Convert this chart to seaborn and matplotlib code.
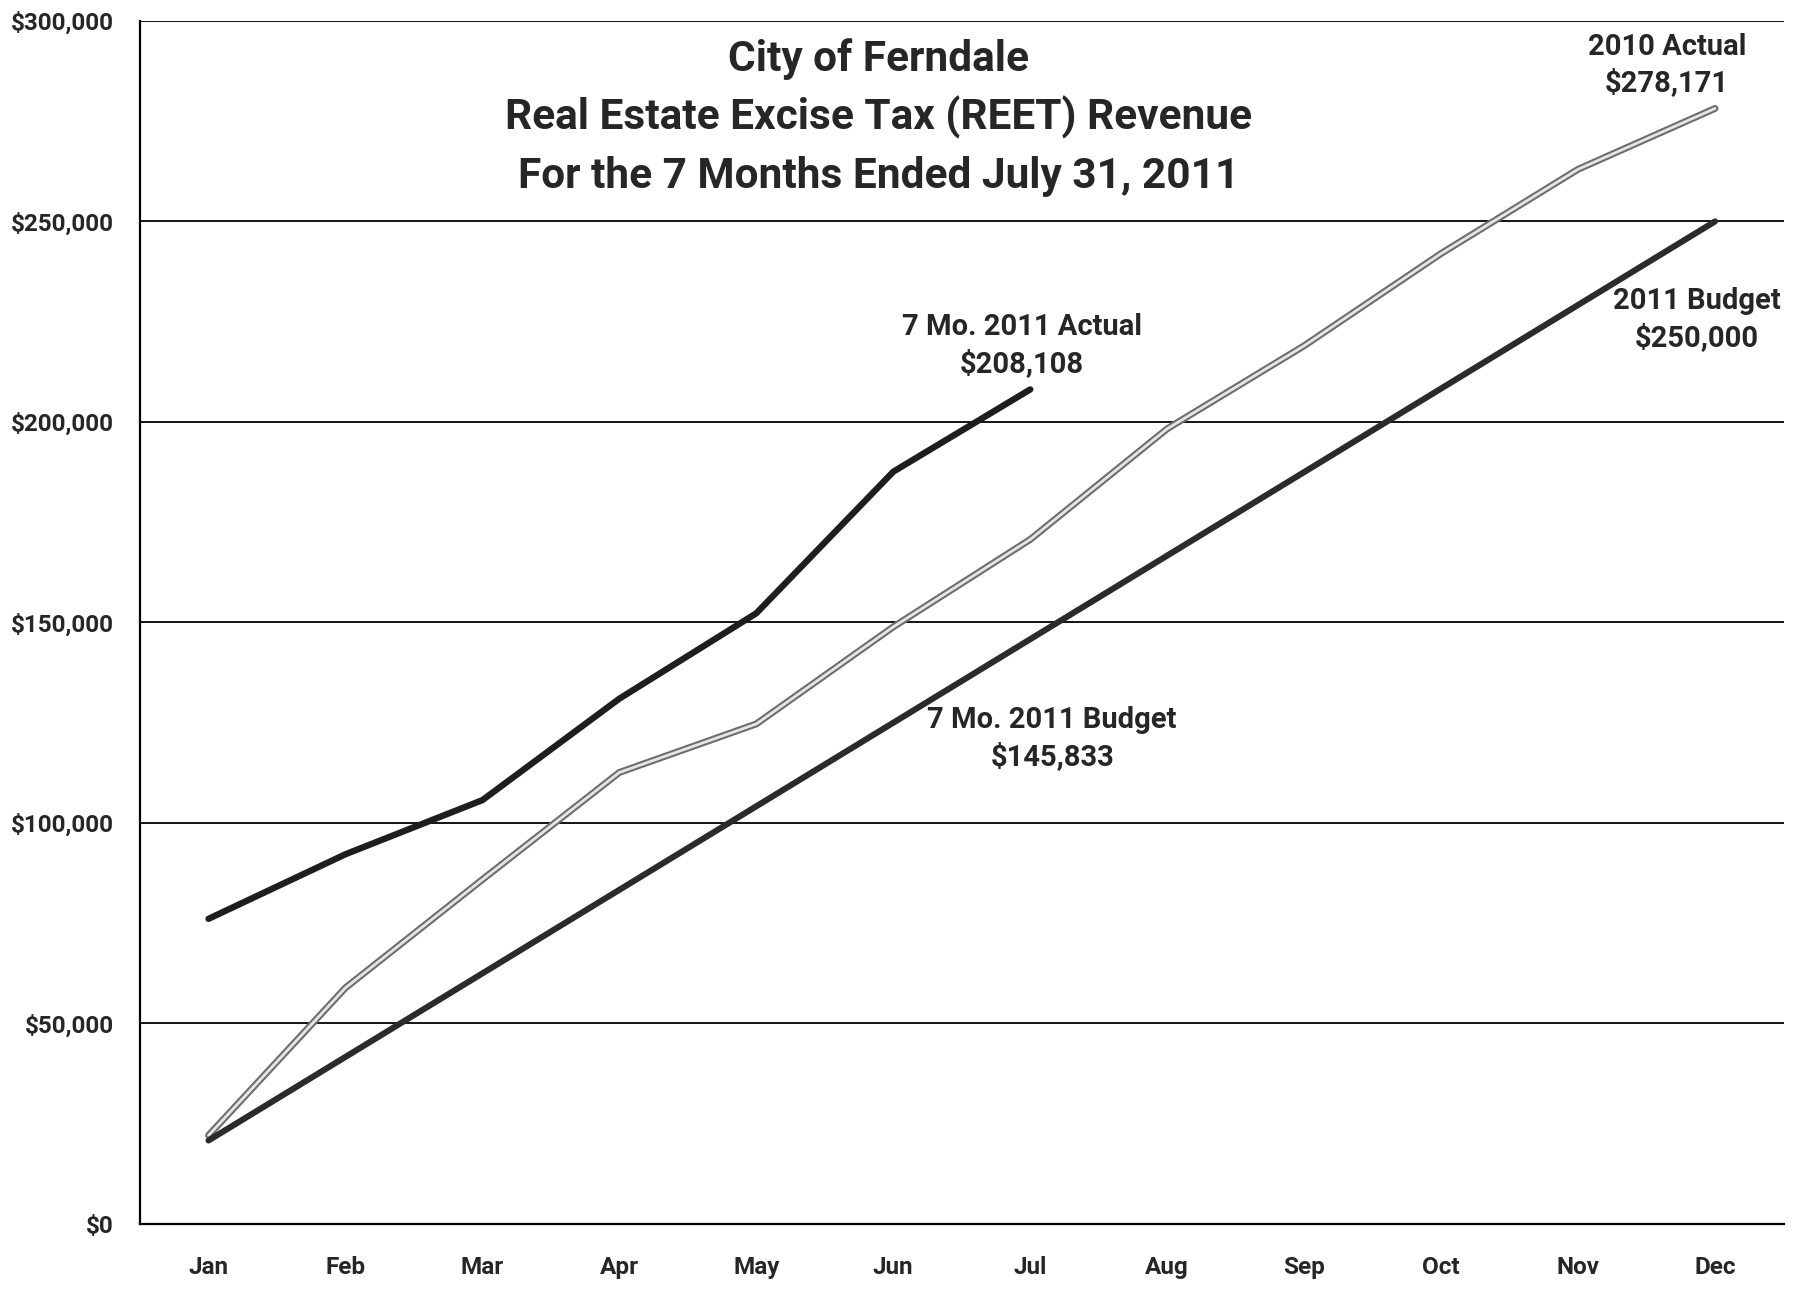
import numpy as np
import pandas as pd
import matplotlib
matplotlib.use("Agg")
import matplotlib.pyplot as plt
import matplotlib.patheffects as pe
from matplotlib.ticker import FuncFormatter, MultipleLocator
import seaborn as sns

# values
months = ["Jan", "Feb", "Mar", "Apr", "May", "Jun", "Jul", "Aug", "Sep", "Oct", "Nov", "Dec"]
actual_2011 = [76100, 92200, 105700, 131000, 152300, 187600, 208108]
actual_2010 = [22100, 58900, 85900, 112600, 124700, 148900, 170700, 198300, 219000, 242000, 263000, 278171]
budget_2011 = [20833, 41667, 62500, 83333, 104167, 125000, 145833, 166667, 187500, 208333, 229167, 250000]

sns.set_style("white")
plt.rcParams['font.family'] = ['Roboto', 'DejaVu Sans']

fig = plt.figure(figsize=(18.07, 13.07), dpi=100)
ax = fig.add_axes([0.0775, 0.0635, 0.9095, 0.9205])

x_all = np.arange(len(months))
df10 = pd.DataFrame({"x": x_all, "y": actual_2010})
dfb = pd.DataFrame({"x": x_all, "y": budget_2011})
df11 = pd.DataFrame({"x": x_all[:len(actual_2011)], "y": actual_2011})

# gridlines first so lines sit on top
for v in range(0, 300001, 50000):
    ax.axhline(v, color="black", lw=1.3, zorder=1)

sns.lineplot(data=df10, x="x", y="y", ax=ax, color="#e6e6e6", lw=2.0, zorder=3,
             path_effects=[pe.Stroke(linewidth=5, foreground="#6e6e6e"), pe.Normal()])
sns.lineplot(data=dfb, x="x", y="y", ax=ax, color="#2b2b2b", lw=4.4, zorder=3)
sns.lineplot(data=df11, x="x", y="y", ax=ax, color="#1e1e1e", lw=4.6, zorder=4)

ax.set_xlim(-0.5, 11.5)
ax.set_ylim(0, 300000)
ax.set_xlabel("")
ax.set_ylabel("")

ax.set_xticks(x_all)
ax.set_xticklabels(months, fontsize=17.5, fontweight="bold")
ax.set_xticks(np.arange(-0.5, 12, 1), minor=True)
ax.tick_params(axis="x", which="major", length=0, pad=23)
ax.tick_params(axis="x", which="minor", length=9, width=1.3, direction="out", color="black")

ax.yaxis.set_major_locator(MultipleLocator(50000))
ax.yaxis.set_major_formatter(FuncFormatter(lambda v, p: f"${v:,.0f}"))
ax.tick_params(axis="y", length=8, width=1.3, direction="out", color="black", labelsize=17.5, pad=11)
for lab in ax.get_yticklabels():
    lab.set_fontweight("bold")

for s in ["top", "right"]:
    ax.spines[s].set_visible(False)
for s in ["left", "bottom"]:
    ax.spines[s].set_color("black")
    ax.spines[s].set_linewidth(1.6)

title_lines = ["City of Ferndale", "Real Estate Excise Tax (REET) Revenue",
               "For the 7 Months Ended July 31, 2011"]
for i, t in enumerate(title_lines):
    ax.text(4.89, 290600 - i * 14700, t, ha="center", va="center",
            fontsize=30.5, fontweight="bold", zorder=5)

notes = [
    (5.94, 219000, "7 Mo. 2011 Actual\n$208,108"),
    (10.65, 289000, "2010 Actual\n$278,171"),
    (10.87, 225500, "2011 Budget\n$250,000"),
    (6.16, 121000, "7 Mo. 2011 Budget\n$145,833"),
]
for x, y, t in notes:
    ax.text(x, y, t, ha="center", va="center", fontsize=21, fontweight="bold",
            linespacing=1.35, zorder=5)

fig.savefig("out.png", dpi=100, facecolor="white")
